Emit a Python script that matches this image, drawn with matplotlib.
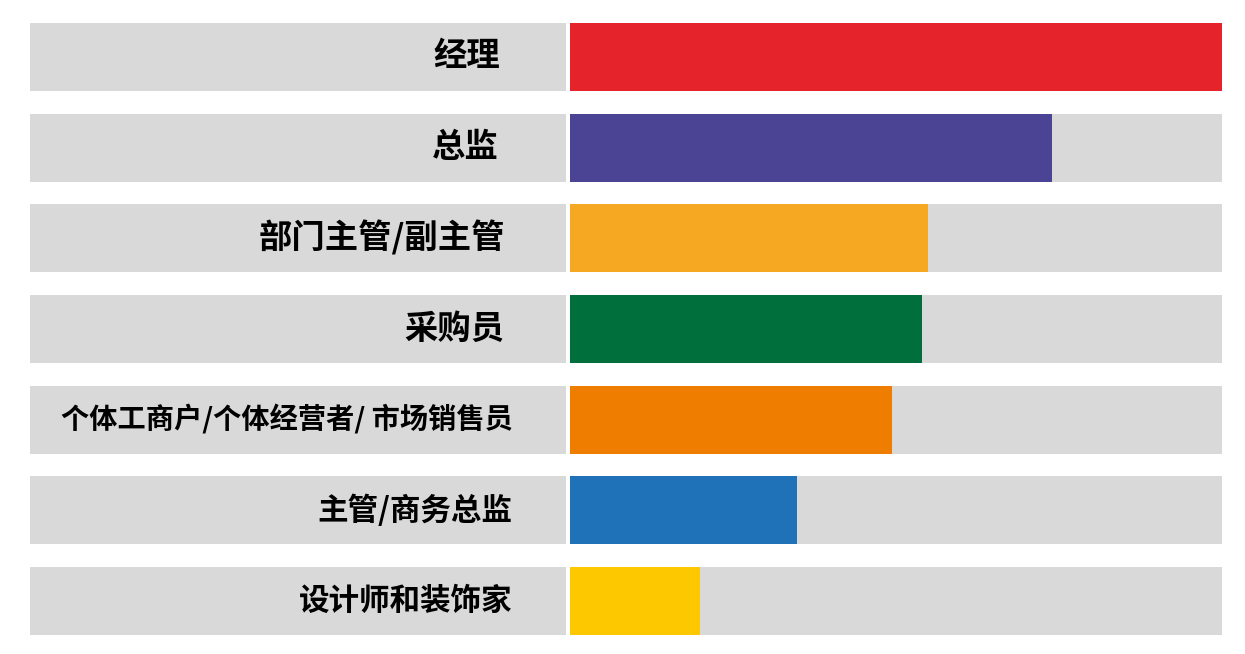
import matplotlib.pyplot as plt
import numpy as np

plt.rcParams['font.family'] = ['Noto Sans CJK SC', 'DejaVu Sans']

labels = ['经理', '总监', '部门主管/副主管', '采购员',
          '个体工商户/个体经营者/ 市场销售员', '主管/商务总监', '设计师和装饰家']
values = [100, 73.9, 54.9, 54.0, 49.4, 34.8, 19.9]
colors = ['#E5232A', '#4B4494', '#F6A823', '#006F3C', '#EF7D00', '#1F71B8', '#FDC800']

# text styling per row (font size, right edge as fraction of the grey panel)
label_sizes = [24, 24, 24, 24, 20.3, 22, 22]
label_right = [0.878, 0.875, 0.886, 0.886, 0.9, 0.9, 0.9]

grey = '#D9D9D9'
fig = plt.figure(figsize=(12.45, 6.54), dpi=100)

y = np.arange(len(labels))
h = 0.75

# left label panel
axl = fig.add_axes([30 / 1245, 19 / 654, 536 / 1245, 612 / 654])
axl.barh(y, [1] * len(labels), height=h, color=grey)
axl.set_xlim(0, 1)
axl.set_ylim(len(labels) - 1 + h / 2, -h / 2)
axl.axis('off')
for i, lab in enumerate(labels):
    axl.text(label_right[i], i, lab, ha='right', va='center',
             fontsize=label_sizes[i], fontweight=900, color='black')

# bar panel
axr = fig.add_axes([570 / 1245, 19 / 654, 652 / 1245, 612 / 654])
axr.barh(y, [100] * len(labels), height=h, color=grey)
axr.barh(y, values, height=h, color=colors)
axr.set_xlim(0, 100)
axr.set_ylim(len(labels) - 1 + h / 2, -h / 2)
axr.axis('off')

fig.savefig('out.png', dpi=100)
